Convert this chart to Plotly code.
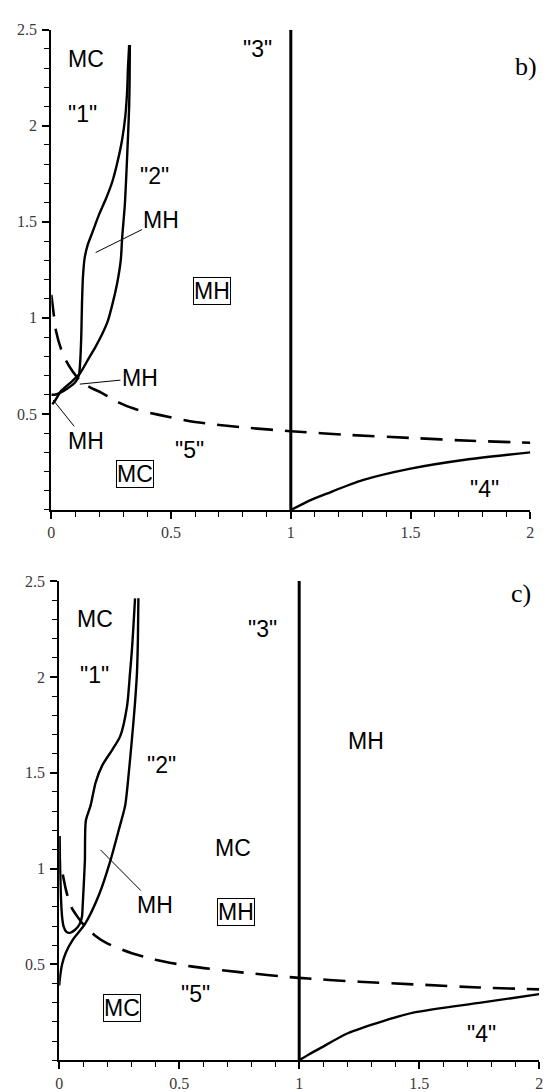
import plotly.graph_objects as go

# ---------------- data: panel b) ----------------
b_c1_x = [0.325, 0.320, 0.317, 0.309, 0.296, 0.276, 0.255, 0.228, 0.200, 0.173, 0.152, 0.139, 0.132, 0.128, 0.125, 0.120, 0.115, 0.100, 0.070, 0.040, 0.015, 0.0]
b_c1_y = [2.42, 2.30, 2.19, 2.05, 1.93, 1.81, 1.71, 1.62, 1.54, 1.45, 1.38, 1.31, 1.21, 1.07, 0.90, 0.76, 0.70, 0.665, 0.635, 0.612, 0.600, 0.600]

b_c2_x = [0.328, 0.327, 0.325, 0.317, 0.307, 0.296, 0.290, 0.275, 0.255, 0.235, 0.214, 0.185, 0.152, 0.119, 0.078, 0.041, 0.016, 0.004]
b_c2_y = [2.42, 2.25, 2.10, 1.85, 1.59, 1.42, 1.30, 1.18, 1.07, 0.98, 0.92, 0.85, 0.78, 0.71, 0.66, 0.62, 0.57, 0.55]

b_c3_x = [1.0, 1.0]
b_c3_y = [0.0, 2.5]

b_c4_x = [1.0, 1.04, 1.08, 1.15, 1.30, 1.50, 1.72, 2.0]
b_c4_y = [0.0, 0.025, 0.05, 0.085, 0.155, 0.215, 0.26, 0.30]

b_c5_x = [0.0, 0.01, 0.02, 0.04, 0.06, 0.09, 0.12, 0.16, 0.21, 0.28, 0.35, 0.45, 0.6, 0.8, 1.0, 1.25, 1.5, 1.75, 2.0]
b_c5_y = [1.12, 1.02, 0.93, 0.84, 0.78, 0.72, 0.675, 0.64, 0.61, 0.56, 0.525, 0.495, 0.458, 0.43, 0.41, 0.39, 0.375, 0.36, 0.35]

# ---------------- data: panel c) ----------------
c_c1_x = [0.316, 0.311, 0.303, 0.295, 0.283, 0.254, 0.221, 0.180, 0.152, 0.131, 0.111, 0.107, 0.098, 0.095, 0.085, 0.065, 0.045, 0.030, 0.018, 0.012, 0.008, 0.005, 0.003, 0.002]
c_c1_y = [2.41, 2.30, 2.14, 2.02, 1.85, 1.69, 1.62, 1.54, 1.45, 1.33, 1.25, 1.04, 0.81, 0.75, 0.71, 0.68, 0.665, 0.67, 0.70, 0.75, 0.83, 0.95, 1.05, 1.17]

c_c2_x = [0.330, 0.328, 0.324, 0.315, 0.303, 0.290, 0.275, 0.250, 0.213, 0.168, 0.107, 0.057, 0.027, 0.012, 0.004, 0.0]
c_c2_y = [2.41, 2.20, 2.02, 1.85, 1.675, 1.50, 1.33, 1.21, 1.04, 0.87, 0.71, 0.63, 0.56, 0.50, 0.44, 0.39]

c_c3_x = [1.0, 1.0]
c_c3_y = [0.0, 2.5]

c_c4_x = [1.0, 1.04, 1.09, 1.20, 1.35, 1.48, 1.75, 2.0]
c_c4_y = [0.0, 0.03, 0.065, 0.14, 0.205, 0.25, 0.30, 0.345]

c_c5_x = [0.015, 0.03, 0.05, 0.07, 0.10, 0.15, 0.20, 0.30, 0.40, 0.55, 0.75, 1.0, 1.25, 1.5, 1.75, 2.0]
c_c5_y = [0.97, 0.88, 0.80, 0.76, 0.71, 0.65, 0.61, 0.56, 0.525, 0.49, 0.46, 0.43, 0.41, 0.395, 0.38, 0.37]

x_tickvals = [0, 0.5, 1, 1.5, 2]
y_tickvals = [0.5, 1, 1.5, 2, 2.5]

# ---------------- figure ----------------
fig = go.Figure()
SOLID = dict(color="black", width=2.4, shape="spline", smoothing=0.7)
DASH = dict(color="black", width=2.6, dash="22px,12px", shape="spline", smoothing=0.7)
VERT = dict(color="black", width=3)

panels = [
    ("x", "y", b_c1_x, b_c1_y, b_c2_x, b_c2_y, b_c3_x, b_c3_y, b_c4_x, b_c4_y, b_c5_x, b_c5_y),
    ("x2", "y2", c_c1_x, c_c1_y, c_c2_x, c_c2_y, c_c3_x, c_c3_y, c_c4_x, c_c4_y, c_c5_x, c_c5_y),
]
for xa, ya, x1, y1, x2, y2, x3, y3, x4, y4, x5, y5 in panels:
    fig.add_trace(go.Scatter(x=x1, y=y1, mode="lines", line=SOLID, xaxis=xa, yaxis=ya))
    fig.add_trace(go.Scatter(x=x2, y=y2, mode="lines", line=SOLID, xaxis=xa, yaxis=ya))
    fig.add_trace(go.Scatter(x=x3, y=y3, mode="lines", line=VERT, xaxis=xa, yaxis=ya))
    fig.add_trace(go.Scatter(x=x4, y=y4, mode="lines", line=SOLID, xaxis=xa, yaxis=ya))
    fig.add_trace(go.Scatter(x=x5, y=y5, mode="lines", line=DASH, xaxis=xa, yaxis=ya))

TICKFONT = dict(family="Liberation Serif", size=16, color="#3a3a3a")
MINOR = dict(dtick=0.1, tick0=0, ticks="outside", ticklen=5, tickwidth=1.2, tickcolor="black")
common_x = dict(range=[0, 2], tickvals=x_tickvals, ticks="outside", ticklen=7, tickwidth=1.5,
                tickcolor="black", showline=True, linecolor="black", linewidth=2,
                showgrid=False, zeroline=False, tickfont=TICKFONT, minor=MINOR)
common_y = dict(range=[0, 2.5], tickvals=y_tickvals, ticks="outside", ticklen=7, tickwidth=1.5,
                tickcolor="black", showline=True, linecolor="black", linewidth=2,
                showgrid=False, zeroline=False, tickfont=TICKFONT, ticklabelstandoff=2, minor=MINOR)

fig.update_layout(
    width=556, height=1092, margin=dict(l=0, r=0, t=0, b=0),
    paper_bgcolor="white", plot_bgcolor="white", showlegend=False,
    xaxis=dict(domain=[48/556, 534/556], anchor="y", **common_x),
    yaxis=dict(domain=[1-508/1092, 1-22/1092], anchor="x", **common_y),
    xaxis2=dict(domain=[56/556, 543/556], anchor="y2", **common_x),
    yaxis2=dict(domain=[1-1065/1092, 1-580/1092], anchor="x2", **common_y),
)

LBL = dict(family="Liberation Sans, Arial", size=23, color="black")
SERIF = dict(family="Liberation Serif, Times New Roman", size=26, color="black")

def label(xr, yr, x, y, text, boxed=False, font=LBL, tip=None):
    kw = dict(xref=xr, yref=yr, x=x, y=y, text=text, font=font, showarrow=False)
    if boxed:
        kw.update(bordercolor="black", borderwidth=1, borderpad=0)
    if tip is not None:
        kw.update(x=tip[0], y=tip[1], ax=x, ay=y, axref=xr, ayref=yr, showarrow=True,
                  arrowhead=0, arrowwidth=1, arrowcolor="black", standoff=0)
    fig.add_annotation(**kw)

# panel b)
label("x", "y", 0.144, 2.35, "MC")
label("x", "y", 0.132, 2.06, '"1"')
label("x", "y", 0.432, 1.74, '"2"')
label("x", "y", 0.46, 1.51, "MH", tip=(0.185, 1.34))
label("paper", "paper", 543/556, 1-43/1092, "b)", font=SERIF)
label("x", "y", 0.86, 2.40, '"3"')
label("x", "y", 0.67, 1.14, "MH", boxed=True)
label("x", "y", 0.37, 0.686, "MH", tip=(0.119, 0.655))
label("x", "y", 0.144, 0.36, "MH", tip=(0.008, 0.572))
label("x", "y", 0.576, 0.314, '"5"')
label("x", "y", 0.35, 0.186, "MC", boxed=True)
label("x", "y", 1.81, 0.108, '"4"')

# panel c)
label("x2", "y2", 0.148, 2.30, "MC")
label("x2", "y2", 0.148, 2.01, '"1"')
label("x2", "y2", 0.426, 1.54, '"2"')
label("x2", "y2", 0.848, 2.25, '"3"')
label("paper", "paper", 537/556, 1-593/1092, "c)", font=SERIF)
label("x2", "y2", 1.28, 1.665, "MH")
label("x2", "y2", 0.725, 1.108, "MC")
label("x2", "y2", 0.738, 0.773, "MH", boxed=True)
label("x2", "y2", 0.40, 0.81, "MH", tip=(0.172, 1.098))
label("x2", "y2", 0.262, 0.273, "MC", boxed=True)
label("x2", "y2", 0.57, 0.345, '"5"')
label("x2", "y2", 1.758, 0.139, '"4"')

fig.write_html("out.html")
